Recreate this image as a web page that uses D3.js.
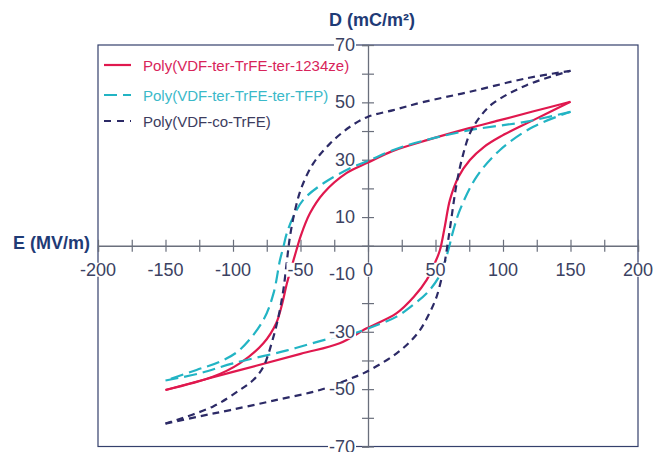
<!DOCTYPE html>
<html>
<head>
<meta charset="utf-8">
<script src="https://cdn.jsdelivr.net/npm/d3@7"></script>
<style>
  html, body { margin: 0; padding: 0; background: #fff; }
  svg { display: block; font-family: "Liberation Sans", Arial, sans-serif; }
</style>
</head>
<body>
<svg id="chart" width="654" height="452"></svg>
<script>
// ---------- data (E in MV/m, D in mC/m²) ----------
const seriesNames = ["Poly(VDF-ter-TrFE-ter-1234ze)", "Poly(VDF-ter-TrFE-ter-TFP)", "Poly(VDF-co-TrFE)"];

const redUpper = [[150,50.2],[122,46.8],[97,43.7],[75,41],[45,37],[18,33],[0,29],[-16,25.3],[-33,18.3],[-43,11.3],[-50,3.2],[-53,-1.5],[-57,-8],[-60,-13],[-64,-21],[-68,-27],[-77.5,-34],[-95,-41],[-115,-45.7],[-150,-50.3]];
const redLower = [[-150,-50.3],[-100,-44],[-50,-37.7],[-21,-34],[-1,-28.8],[21,-23.6],[34,-17.8],[43.5,-11.9],[50,-5.5],[53.3,-1.5],[57,7],[60.7,16],[67,24],[75.5,29.9],[86,34.5],[97.8,38],[122.5,43.8],[150,50.2]];

const cyanUpper = [[150,46.7],[117.5,43.3],[75.5,40.3],[40,36.5],[18.8,33.4],[1.5,29.9],[-13.3,27],[-33,21.8],[-48,16],[-55.3,10.1],[-60.2,4.3],[-62.7,-0.5],[-65.2,-5],[-70,-16.6],[-77.5,-25.9],[-95,-36.3],[-110,-40.5],[-127,-43.3],[-150,-47]];
const cyanLower = [[-150,-47],[-125,-44.5],[-100,-41],[-60,-36.5],[-28,-32.3],[-12,-30.8],[1.5,-28.6],[21.2,-24.7],[35,-20],[43.5,-16.6],[53.3,-10.2],[59.5,-1.5],[63,5],[68.1,12.5],[80.5,24.1],[97.8,33.4],[122.5,41.5],[150,46.7]];

const navyUpper = [[150,61],[117.5,58.4],[75.5,53.7],[40,50],[18.8,47.3],[0,45],[-13.3,41.5],[-28,35.7],[-40.5,28.7],[-49,20.6],[-54,12.5],[-57.8,3.2],[-60,-5],[-62.7,-15.4],[-66,-24],[-70,-31.7],[-77.5,-42.2],[-85,-46.8],[-95,-50.3],[-115,-56.1],[-150,-62]];
const navyLower = [[-150,-62],[-125,-59.5],[-102,-57.3],[-70,-54],[-35.6,-50.3],[-15,-46.7],[-3.5,-44.5],[10,-41],[21.2,-37.5],[30,-34],[38.5,-29.4],[45,-24],[50.8,-17.8],[55.8,-8.5],[58.3,-1.5],[61,7],[65.7,21.8],[70,31],[75.5,39.2],[83,45],[92.8,49.7],[117.5,56],[150,61]];

const xTicks = [-200,-175,-150,-125,-100,-75,-50,-25,0,25,50,75,100,125,150,175,200];
const xTickLabels = [-200,-150,-100,-50,0,50,100,150,200];
const yTicks = [-70,-60,-50,-40,-30,-20,-10,0,10,20,30,40,50,60,70];
const yTickLabels = [-70,-50,-30,-10,10,30,50,70];

// ---------- drawing ----------
const svg = d3.select("#chart");
const x = d3.scaleLinear().domain([-200, 200]).range([98, 638]);
const y = d3.scaleLinear().domain([-70, 70]).range([446.5, 45]);

const colors = ["#e0184e", "#22b4c4", "#2c2a66"];
const textColors = ["#d8245a", "#3ab9c9", "#3c3c5e"];
const dashes = [null, "13,6", "7,5"];

// frame
svg.append("rect")
  .attr("x", x(-200)).attr("y", y(70))
  .attr("width", x(200) - x(-200)).attr("height", y(-70) - y(70))
  .attr("fill", "none").attr("stroke", "#34406c").attr("stroke-width", 1.2);

// x axis (through y=0)
const xAxis = d3.axisBottom(x).tickValues(xTicks).tickSize(6).tickFormat("");
const gx = svg.append("g").attr("transform", `translate(0,${y(0)})`).call(xAxis);
gx.select(".domain").attr("stroke", "#6a6f7c").attr("stroke-width", 1.3);
gx.selectAll(".tick line").attr("y1", -6).attr("y2", 6).attr("stroke", "#6a6f7c").attr("stroke-width", 1.2);

// y axis (through x=0)
const yAxis = d3.axisLeft(y).tickValues(yTicks).tickSize(6).tickFormat("");
const gy = svg.append("g").attr("transform", `translate(${x(0)},0)`).call(yAxis);
gy.select(".domain").attr("stroke", "#6a6f7c").attr("stroke-width", 1.3);
gy.selectAll(".tick line").attr("x1", -6).attr("x2", 6).attr("stroke", "#6a6f7c").attr("stroke-width", 1.2);

// curves
const line = d3.line().x(d => x(d[0])).y(d => y(d[1])).curve(d3.curveCatmullRom.alpha(0.5));
const branches = [[redUpper, redLower], [cyanUpper, cyanLower], [navyUpper, navyLower]];
branches.forEach((pair, i) => {
  pair.forEach(br => {
    svg.append("path").datum(br)
      .attr("d", line)
      .attr("fill", "none")
      .attr("stroke", colors[i])
      .attr("stroke-width", 2.2)
      .attr("stroke-dasharray", dashes[i]);
  });
});

// tick labels with white backgrounds
const tickColor = "#3b4262";
const labelFont = 18;
function addLabel(tx, ty, txt, anchor) {
  const t = svg.append("text")
    .attr("x", tx).attr("y", ty)
    .attr("text-anchor", anchor)
    .attr("dominant-baseline", "central")
    .attr("font-size", labelFont)
    .attr("fill", tickColor)
    .text(txt);
  const bb = t.node().getBBox();
  svg.insert("rect", () => t.node())
    .attr("x", bb.x - 1).attr("y", bb.y + 3)
    .attr("width", bb.width + 2).attr("height", bb.height - 6)
    .attr("fill", "#fff");
}
xTickLabels.forEach(v => addLabel(x(v), y(0) + 24, String(v), "middle"));
yTickLabels.forEach(v => addLabel(x(0) - 13, y(v), String(v), "end"));

// axis titles
svg.append("text").attr("x", 90).attr("y", 243)
  .attr("text-anchor", "end").attr("dominant-baseline", "central")
  .attr("font-size", 18).attr("font-weight", "bold").attr("fill", "#1f3b76")
  .text("E (MV/m)");
svg.append("text").attr("x", 372).attr("y", 20)
  .attr("text-anchor", "middle").attr("dominant-baseline", "central")
  .attr("font-size", 18).attr("font-weight", "bold").attr("fill", "#1f3b76")
  .text("D (mC/m²)");

// legend
const legendY = [65, 95, 121];
seriesNames.forEach((name, i) => {
  svg.append("line")
    .attr("x1", 104).attr("x2", 131)
    .attr("y1", legendY[i]).attr("y2", legendY[i])
    .attr("stroke", colors[i]).attr("stroke-width", 2.2)
    .attr("stroke-dasharray", i === 0 ? null : (i === 1 ? "13,6" : "7,6"));
  svg.append("text")
    .attr("x", 143).attr("y", legendY[i])
    .attr("dominant-baseline", "central")
    .attr("font-size", 15).attr("fill", textColors[i])
    .text(name);
});
</script>
</body>
</html>
